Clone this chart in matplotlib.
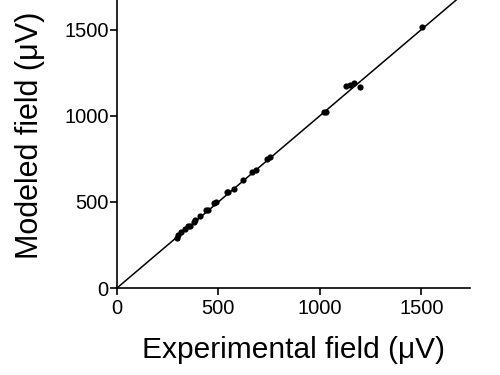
import matplotlib
matplotlib.use("Agg")
import matplotlib.pyplot as plt

plt.rcParams['font.family'] = ['Liberation Sans', 'DejaVu Sans']

experimental = [1505, 1130, 1148, 1167, 1196, 1020, 1031, 752, 739, 687, 667, 621, 575,
                547, 542, 486, 476, 448, 440, 411, 383, 378, 358, 350, 333, 317, 301, 297]
modeled = [1515, 1175, 1180, 1189, 1169, 1021, 1019, 763, 748, 686, 676, 626, 576,
           559, 556, 497, 493, 454, 450, 419, 392, 386, 361, 358, 342, 325, 309, 290]
xticks = [0, 500, 1000, 1500]
yticks = [0, 500, 1000, 1500]
fit_line = [0, 1800]

fig = plt.figure(figsize=(5, 3.75), dpi=100)
ax = fig.add_axes([0.234, 0.232, 0.706, 0.768])
ax.plot(fit_line, fit_line, color='black', lw=1.1, zorder=1)
ax.scatter(experimental, modeled, s=20, color='black', zorder=2, linewidths=0)
ax.set_xlim(0, 1740)
ax.set_ylim(0, 1672)
ax.set_xticks(xticks)
ax.set_yticks(yticks)
ax.tick_params(direction='out', length=5, width=1.2, labelsize=14.5)
ax.tick_params(axis='x', pad=3)
ax.tick_params(axis='y', pad=1)
for s in ['top', 'right']:
    ax.spines[s].set_visible(False)
for s in ['left', 'bottom']:
    ax.spines[s].set_linewidth(1.2)
ax.set_xlabel('Experimental field (μV)', fontsize=21.5, labelpad=13)
ax.set_ylabel('Modeled field (μV)', fontsize=22)
ax.yaxis.set_label_coords(-0.205, 0.53)
fig.savefig('out.png', dpi=100)
